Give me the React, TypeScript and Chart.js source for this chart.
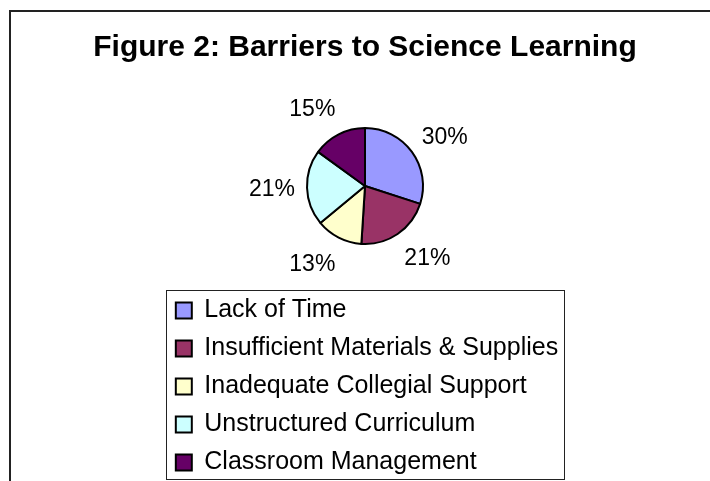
import React, { useEffect, useRef } from 'react';
import { Chart, registerables } from 'chart.js';

Chart.register(...registerables);

const TITLE = 'Figure 2: Barriers to Science Learning';
const categories = [
  'Lack of Time',
  'Insufficient Materials & Supplies',
  'Inadequate Collegial Support',
  'Unstructured Curriculum',
  'Classroom Management',
];
const values = [30, 21, 13, 21, 15];
const colors = ['#9999FF', '#993366', '#FFFFCC', '#CCFFFF', '#660066'];

const FONT = '"Liberation Sans", Arial, Helvetica, sans-serif';
const FRAME_L = 10;
const FRAME_R = 6;

const pieLabels = {
  id: 'pieLabels',
  afterDatasetsDraw(chart: any) {
    const meta = chart.getDatasetMeta(0);
    const data: number[] = chart.data.datasets[0].data;
    const total = data.reduce((a, b) => a + b, 0);
    const ctx = chart.ctx;
    ctx.save();
    ctx.font = `23px ${FONT}`;
    ctx.fillStyle = '#000';
    ctx.textAlign = 'center';
    ctx.textBaseline = 'middle';
    const clampX = (v: number) => Math.max(-1, Math.min(1, v * 2));
    const clampY = (v: number) => Math.sign(v) * Math.min(1, Math.pow(Math.abs(v), 1.5) * 1.2);
    meta.data.forEach((arc: any, i: number) => {
      const { x, y, startAngle, endAngle, outerRadius } = arc.getProps(
        ['x', 'y', 'startAngle', 'endAngle', 'outerRadius'],
        true
      );
      const mid = (startAngle + endAngle) / 2;
      const ux = Math.cos(mid);
      const uy = Math.sin(mid);
      const text = Math.round((data[i] / total) * 100) + '%';
      const w = ctx.measureText(text).width;
      const r = outerRadius + 12;
      ctx.fillText(text, x + r * ux + (w / 2) * clampX(ux), y + 1 + r * uy + 15 * clampY(uy));
    });
    ctx.restore();
  },
};

const legendFrame = {
  id: 'legendFrame',
  afterLayout(chart: any) {
    const lg = chart.legend;
    if (!lg || !lg.legendHitBoxes || !lg.legendHitBoxes.length) return;
    const pad = lg.options.labels.padding;
    const maxW = Math.max(...lg.legendHitBoxes.map((h: any) => h.width));
    const frameW = maxW + FRAME_L + FRAME_R;
    const cx = (chart.chartArea.left + chart.chartArea.right) / 2;
    const frameLeft = cx - frameW / 2;
    lg.left = frameLeft + FRAME_L - pad;
    lg.right = lg.left + 2 * pad + maxW + 1;
    lg.width = lg.right - lg.left;
  },
  afterDraw(chart: any) {
    const lg = chart.legend;
    if (!lg || !lg.legendHitBoxes || !lg.legendHitBoxes.length) return;
    const hb = lg.legendHitBoxes;
    const pad = lg.options.labels.padding;
    const maxW = Math.max(...hb.map((h: any) => h.width));
    const left = Math.round(lg.left + pad - FRAME_L) + 0.5;
    const right = Math.round(lg.left + pad + maxW + FRAME_R) + 0.5;
    const top = Math.round(hb[0].top - 8) + 0.5;
    const last = hb[hb.length - 1];
    const bottom = Math.round(last.top + last.height + 4) + 0.5;
    const ctx = chart.ctx;
    ctx.save();
    ctx.strokeStyle = '#222';
    ctx.lineWidth = 1;
    ctx.strokeRect(left, top, right - left, bottom - top);
    ctx.restore();
  },
};

export default function App() {
  const ref = useRef<HTMLCanvasElement>(null);

  useEffect(() => {
    if (!ref.current) return;
    Chart.defaults.font.family = FONT;
    const chart = new Chart(ref.current, {
      type: 'pie',
      data: {
        labels: categories,
        datasets: [
          {
            data: values,
            backgroundColor: colors,
            borderColor: '#000',
            borderWidth: 2,
            radius: 58,
            hoverOffset: 0,
          } as any,
        ],
      },
      options: {
        responsive: false,
        animation: false,
        events: [],
        layout: { padding: 0 },
        plugins: {
          tooltip: { enabled: false },
          title: {
            display: true,
            text: TITLE,
            color: '#000',
            font: { family: FONT, size: 30, weight: 'bold' },
            padding: { top: 29.4, bottom: 21.6 },
          },
          legend: {
            display: true,
            position: 'bottom',
            align: 'start',
            labels: {
              color: '#000',
              boxWidth: 16,
              boxHeight: 16,
              padding: 13,
              font: { family: FONT, size: 25 },
            },
          },
        },
      } as any,
      plugins: [pieLabels, legendFrame],
    });
    return () => chart.destroy();
  }, []);

  return (
    <div
      style={{
        position: 'fixed',
        left: 0,
        top: 0,
        width: '100vw',
        height: '100vh',
        overflow: 'hidden',
        background: '#fff',
      }}
    >
      <div
        style={{
          position: 'absolute',
          left: 9,
          top: 10,
          width: 800,
          height: 600,
          borderLeft: '2px solid #222',
          borderTop: '2px solid #222',
        }}
      />
      <canvas
        ref={ref}
        width={556}
        height={485}
        style={{ position: 'absolute', left: 87, top: 0, width: 556, height: 485 }}
      />
    </div>
  );
}
